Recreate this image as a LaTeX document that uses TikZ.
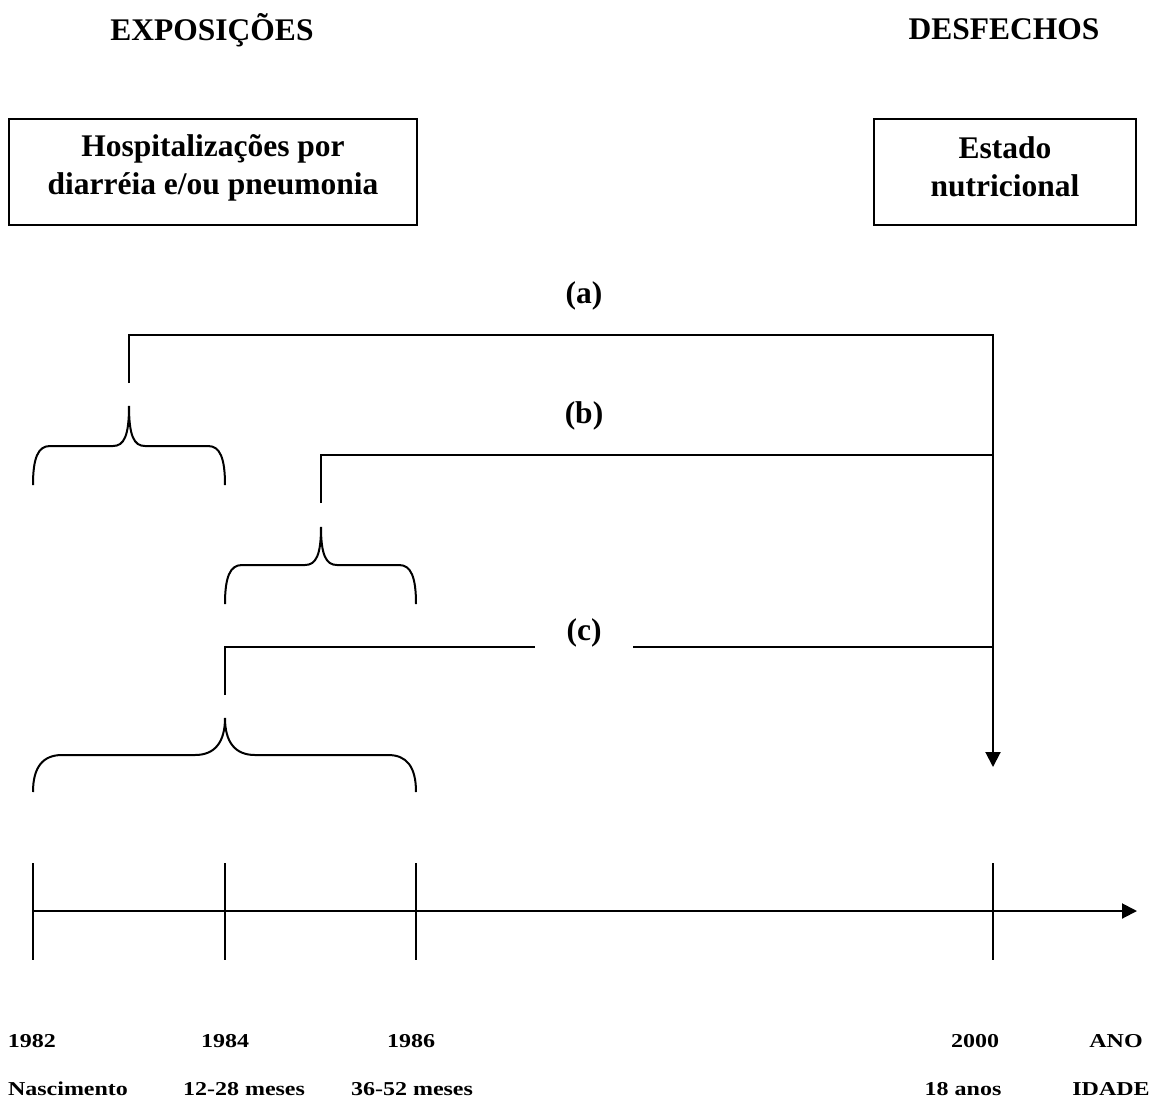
\documentclass[tikz,border=0pt]{standalone}
\usepackage{graphicx}
\usepackage{fontspec}
\setmainfont{Liberation Serif}
\usetikzlibrary{arrows.meta}
\tikzset{
 ln/.style={line width=2pt, line cap=butt, line join=miter},
 boxst/.style={draw, line width=2pt, inner sep=0pt},
 big/.style={font=\fontsize{31.5}{37.5}\selectfont\bfseries, inner sep=0pt, align=center},
 small/.style={font=\fontsize{24}{28}\selectfont\bfseries, inner sep=0pt, anchor=base},
 arrowtip/.style={-{Triangle[length=15pt,width=15pt]}}
}
\newcommand\sqz[1]{\scalebox{1}[0.82]{#1}}
\begin{document}
\begin{tikzpicture}[x=1pt,y=-1pt]
\useasboundingbox (0,0) rectangle (1160,1104);
% titles
\node[big, anchor=base] (expo) at (212,40) {EXPOSIÇÕES};
\node[big, anchor=base] (desf) at (1004,39) {DESFECHOS};
% boxes
\node[boxst, minimum width=408pt, minimum height=106pt] (hosp) at (213,172) {};
\node[big] (hosptxt) at (213,168) {Hospitalizações por\\diarréia e/ou pneumonia};
\node[boxst, minimum width=262pt, minimum height=106pt] (estado) at (1005,172) {};
\node[big] (estadotxt) at (1005,167) {Estado\\nutricional};
% labels
\node[big, anchor=base] (la) at (584,303) {(a)};
\node[big, anchor=base] (lb) at (584,423) {(b)};
\node[big, anchor=base] (lc) at (584,640) {(c)};
% connector coordinates
\coordinate (a0) at (129,383);
\coordinate (a1) at (129,335);
\coordinate (a2) at (993,335);
\coordinate (aend) at (993,767);
\coordinate (b0) at (321,503);
\coordinate (b1) at (321,455);
\coordinate (b2) at (993,455);
\coordinate (c0) at (225,695);
\coordinate (c1) at (225,647);
\coordinate (c2) at (535,647);
\coordinate (c3) at (633,647);
\coordinate (c4) at (993,647);
\draw[ln, arrowtip] (a0) -- (a1) -- (a2) -- (aend);
\draw[ln] (b0) -- (b1) -- (b2);
\draw[ln] (c0) -- (c1) -- (c2);
\draw[ln] (c3) -- (c4);
% braces
\draw[ln] (33,485) .. controls (33,458) and (38,446) .. (50,446) -- (113,446)
  .. controls (124,446) and (129,436) .. (129,406)
  .. controls (129,436) and (134,446) .. (145,446) -- (208,446)
  .. controls (220,446) and (225,458) .. (225,485);
\draw[ln] (225,604) .. controls (225,577) and (230,565) .. (242,565) -- (305,565)
  .. controls (316,565) and (321,555) .. (321,527)
  .. controls (321,555) and (326,565) .. (337,565) -- (399,565)
  .. controls (411,565) and (416,577) .. (416,604);
\draw[ln] (33,792) .. controls (33,767) and (43,755) .. (62,755) -- (195,755)
  .. controls (215,755) and (225,742) .. (225,718)
  .. controls (225,742) and (235,755) .. (255,755) -- (388,755)
  .. controls (407,755) and (416,767) .. (416,792);
% timeline
\coordinate (t0) at (33,911);
\coordinate (tend) at (1137,911);
\draw[ln, arrowtip] (t0) -- (tend);
\foreach \x/\n in {33/k1,225/k2,416/k3,993/k4}{
  \coordinate (\n top) at (\x,863);
  \coordinate (\n bot) at (\x,960);
  \draw[ln] (\n top) -- (\n bot);
}
% bottom labels
\node[small] (y1982) at (32,1047) {\sqz{1982}};
\node[small] (y1984) at (225,1047) {\sqz{1984}};
\node[small] (y1986) at (411,1047) {\sqz{1986}};
\node[small] (y2000) at (975,1047) {\sqz{2000}};
\node[small] (ano) at (1116,1047) {\sqz{ANO}};
\node[small] (nasc) at (68,1095) {\sqz{Nascimento}};
\node[small] (m1228) at (244,1095) {\sqz{12-28 meses}};
\node[small] (m3652) at (412,1095) {\sqz{36-52 meses}};
\node[small] (anos18) at (963,1095) {\sqz{18 anos}};
\node[small] (idade) at (1111,1095) {\sqz{IDADE}};
\end{tikzpicture}
\end{document}
